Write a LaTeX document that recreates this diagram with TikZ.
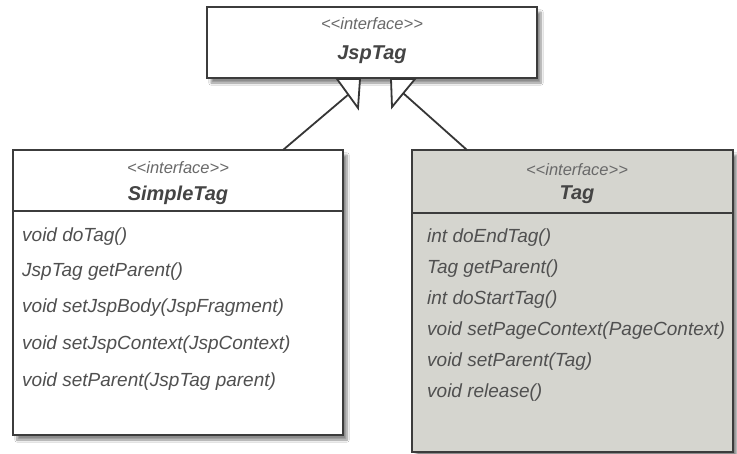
\documentclass[tikz,border=0pt]{standalone}
\usepackage{fontspec}
\setmainfont{Liberation Sans}
\usetikzlibrary{shadows.blur}
\definecolor{edge}{RGB}{60,60,60}
\definecolor{txt}{RGB}{80,80,80}
\definecolor{ltxt}{RGB}{105,105,105}
\definecolor{tagfill}{RGB}{213,213,207}
\newcommand{\stereotext}{{<}{<}interface{>}{>}}
\begin{document}
\begin{tikzpicture}[x=1pt,y=-1pt,
  box/.style={draw=edge,line width=1.8pt,rectangle,inner sep=0pt,
    blur shadow={shadow xshift=4pt,shadow yshift=-5pt,shadow blur steps=8,shadow opacity=45}},
  stereo/.style={font=\fontsize{16.5}{16.5}\selectfont\itshape,text=ltxt,inner sep=0pt},
  cname/.style={font=\fontsize{20}{20}\selectfont\bfseries\itshape,text=txt!85!black,inner sep=0pt},
  meth/.style={font=\fontsize{19}{19}\selectfont\itshape,text=txt,inner sep=0pt,anchor=west},
  divider/.style={draw=edge,line width=1.8pt},
  conn/.style={draw=edge!90!black,line width=1.8pt},
  tri/.style={draw=edge!90!black,line width=1.8pt,fill=white,line join=miter}]
\useasboundingbox (0,0) rectangle (737,453);
\fill[white] (0,0) rectangle (737,453);

% JspTag
\node[box,fill=white,minimum width=330pt,minimum height=71pt] (jsp) at (372,42.5) {};
\node[stereo] (jspst) at (372,24) {\stereotext};
\node[cname] (jspn) at (372,55) {JspTag};

% SimpleTag
\node[box,fill=white,minimum width=330pt,minimum height=285pt] (simple) at (178,292.5) {};
\coordinate (sdl) at (13,211);
\coordinate (sdr) at (343,211);
\draw[divider] (sdl) -- (sdr);
\node[stereo] (simplest) at (178,168) {\stereotext};
\node[cname] (simplen) at (178,195) {SimpleTag};
\node[meth] (s1) at (22,237) {void doTag()};
\node[meth] (s2) at (22,272) {JspTag getParent()};
\node[meth] (s3) at (22,308) {void setJspBody(JspFragment)};
\node[meth] (s4) at (22,345) {void setJspContext(JspContext)};
\node[meth] (s5) at (22,382) {void setParent(JspTag parent)};

% Tag
\node[box,fill=tagfill,minimum width=321pt,minimum height=302pt] (tag) at (572.5,301) {};
\coordinate (tdl) at (412,213);
\coordinate (tdr) at (733,213);
\draw[divider] (tdl) -- (tdr);
\node[stereo] (tagst) at (577,170) {\stereotext};
\node[cname] (tagn) at (577,195) {Tag};
\node[meth] (t1) at (427,238) {int doEndTag()};
\node[meth] (t2) at (427,269) {Tag getParent()};
\node[meth] (t3) at (427,300) {int doStartTag()};
\node[meth] (t4) at (427,331) {void setPageContext(PageContext)};
\node[meth] (t5) at (427,362) {void setParent(Tag)};
\node[meth] (t6) at (427,393) {void release()};

% generalization arrows
\coordinate (la) at (337,79);
\coordinate (lb) at (360,79);
\coordinate (lc) at (358,108);
\coordinate (lm) at (349,94);
\coordinate (ls) at (283,150);
\draw[conn] (ls) -- (lm);
\draw[tri] (la) -- (lb) -- (lc) -- cycle;

\coordinate (ra) at (391,79);
\coordinate (rb) at (415,79);
\coordinate (rc) at (392,107);
\coordinate (rm) at (403,93);
\coordinate (rs) at (467,150);
\draw[conn] (rs) -- (rm);
\draw[tri] (ra) -- (rb) -- (rc) -- cycle;
\end{tikzpicture}
\end{document}
